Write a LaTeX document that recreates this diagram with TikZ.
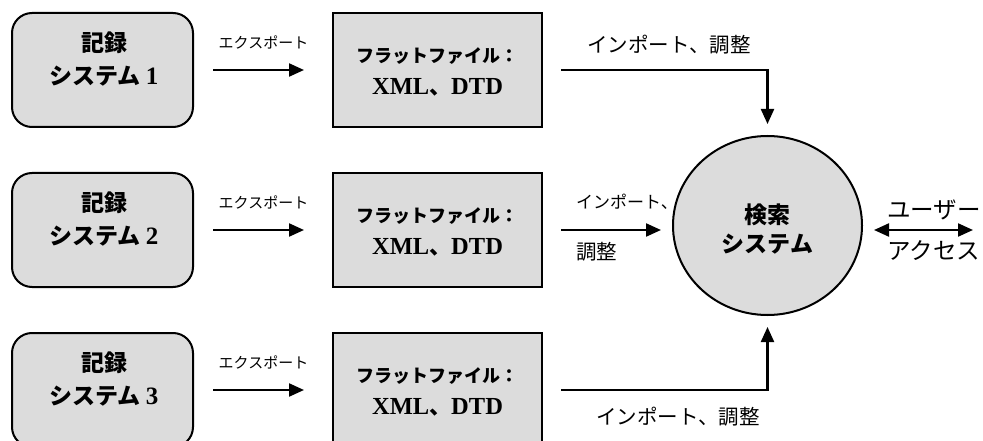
\documentclass[tikz,border=0pt]{standalone}
\usepackage{fontspec}
\setmainfont{Liberation Serif}
\newfontfamily\jp{Noto Sans CJK JP}
\usetikzlibrary{arrows.meta,shapes.geometric}
\definecolor{boxgray}{HTML}{DCDCDC}
\tikzset{
  srcbox/.style={draw, line width=2pt, fill=boxgray, rounded corners=20pt,
    minimum width=181pt, minimum height=114pt, inner sep=0pt},
  flatbox/.style={draw, line width=2pt, fill=boxgray,
    minimum width=209pt, minimum height=114pt, inner sep=0pt},
  hub/.style={ellipse, draw, line width=2pt, fill=boxgray,
    minimum width=189pt, minimum height=179pt, inner sep=0pt},
  flow/.style={line width=2.2pt, -{Triangle[length=15pt,width=13pt]}},
  bothflow/.style={line width=2.2pt, {Triangle[length=15pt,width=13pt]}-{Triangle[length=15pt,width=13pt]}},
  boxjp/.style={font=\jp\bfseries\fontsize{23}{27}\selectfont, inner sep=0pt},
  flatjp/.style={font=\jp\bfseries\fontsize{18}{22}\selectfont, inner sep=0pt},
  flatlat/.style={font=\bfseries\fontsize{24.5}{28}\selectfont, inner sep=0pt},
  small/.style={font=\jp\fontsize{15}{18}\selectfont, inner sep=0pt},
  mid/.style={font=\jp\fontsize{20.5}{24}\selectfont, inner sep=0pt},
  user/.style={font=\jp\fontsize{23.5}{27}\selectfont, inner sep=0pt},
}
\begin{document}
\begin{tikzpicture}[x=1pt,y=-1pt]
\useasboundingbox (0,0) rectangle (983,441);
\clip (0,0) rectangle (983,441);

% source record systems and their flat-file exports
\foreach \i/\y in {1/70,2/230,3/390}{
  \node[srcbox] (rec\i) at (102.5,\y) {};
  \node[boxjp] (rec\i a) at (104,\y-27) {記録};
  \node[boxjp] (rec\i b) at (104,\y+6) {システム\hspace{5pt}{\rmfamily\bfseries\fontsize{25}{27}\selectfont\i}};
  \node[flatbox] (flat\i) at (437.5,\y) {};
  \node[flatjp] (flat\i a) at (437.5,\y-14) {フラットファイル：};
  \node[flatlat] (flat\i b) at (437.5,\y+17) {XML{\jp\bfseries\fontsize{22}{26}\selectfont 、}DTD};
  \node[small] (exp\i) at (263.5,\y-28) {エクスポート};
  \draw[flow, shorten <=19pt, shorten >=28pt] (rec\i.east) -- (flat\i.west);
}

% search system
\node[hub] (srch) at (767.5,225.5) {};
\node[boxjp] (srcha) at (767.5,215) {検索};
\node[boxjp] (srchb) at (767.5,244) {システム};

% import flows
\draw[flow, shorten <=18pt, shorten >=11pt] (flat1.east) -| (srch.north);
\draw[flow, shorten <=18pt, shorten >=11pt] (flat2.east) -- (flat2.east -| srch.west);
\draw[flow, shorten <=18pt, shorten >=11pt] (flat3.east) -| (srch.south);

\node[mid] (imp1) at (669,45) {インポート、調整};
\node[font=\jp\fontsize{17}{20}\selectfont, inner sep=0pt, anchor=west] (imp2a) at (576,202) {インポート、};
\node[mid, anchor=west] (imp2b) at (576,252) {調整};
\node[mid] (imp3) at (678,417) {インポート、調整};

% user access
\coordinate (usr) at (973,230);
\draw[bothflow, shorten <=11pt] (srch.east |- usr) -- (usr);
\node[user] (ua) at (934,210) {ユーザー};
\node[user] (ub) at (934,251) {アクセス};
\end{tikzpicture}
\end{document}
